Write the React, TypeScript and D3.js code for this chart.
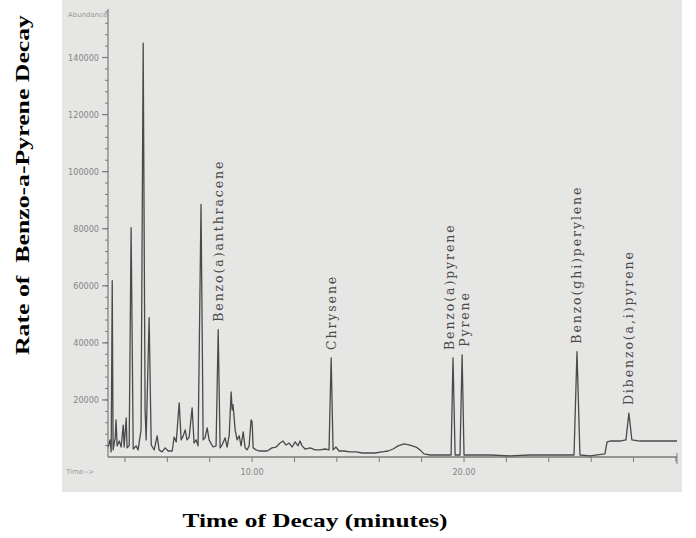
import React from "react";
import * as d3 from "d3";

// retention time (minutes)
const traceTimes = [
  3.21, 3.3, 3.35, 3.4, 3.44, 3.54, 3.58, 3.63, 3.73, 3.82, 3.92, 3.96, 4.06, 4.1, 4.2, 4.29, 4.39, 4.53,
  4.62, 4.76, 4.86, 4.95, 5.0, 5.14, 5.24, 5.38, 5.52, 5.61, 5.75, 5.9, 6.04, 6.23, 6.32, 6.42, 6.56, 6.65,
  6.75, 6.84, 6.93, 7.03, 7.17, 7.26, 7.36, 7.45, 7.59, 7.69, 7.78, 7.88, 7.97, 8.07, 8.16, 8.3, 8.4, 8.49,
  8.58, 8.73, 8.82, 8.92, 9.01, 9.06, 9.1, 9.2, 9.29, 9.39, 9.48, 9.58, 9.67, 9.76, 9.86, 9.95, 10.0, 10.05,
  10.19, 10.33, 10.47, 10.71, 10.94, 11.13, 11.32, 11.46, 11.6, 11.75, 11.89, 12.03, 12.17, 12.26, 12.36,
  12.5, 12.74, 12.97, 13.21, 13.44, 13.63, 13.73, 13.82, 13.96, 14.1, 14.34, 14.62, 14.91, 15.19, 15.47,
  15.8, 16.13, 16.42, 16.65, 16.89, 17.17, 17.45, 17.74, 17.92, 18.11, 18.4, 18.87, 19.39, 19.48, 19.58,
  19.81, 19.91, 20.0, 20.28, 21.23, 22.17, 23.11, 24.06, 25.19, 25.33, 25.47, 25.94, 26.65, 26.75, 26.89,
  27.36, 27.64, 27.78, 27.92, 28.3, 29.01, 30.05,
];

// abundance at each of those times
const traceAbundance = [
  3500, 6000, 1800, 61800, 2500, 6700, 13000, 3900, 5600, 3500, 11200, 3500, 13700, 3200, 3900, 80400, 2800, 3900,
  2500, 9500, 145000, 16500, 6000, 48800, 4200, 2500, 7400, 2500, 1800, 3200, 2100, 2100, 7000, 5300, 19000, 6000,
  7400, 9500, 6000, 7000, 17200, 4900, 6000, 3900, 88500, 6000, 6700, 10200, 6000, 4600, 3500, 3900, 44600, 3200,
  4200, 6700, 3500, 7700, 22800, 16500, 18300, 9500, 6000, 7400, 3900, 8800, 3200, 2500, 3900, 13000, 12300, 3200,
  2500, 2100, 2100, 2100, 3200, 3500, 4900, 5600, 4200, 4900, 3500, 5300, 3900, 5600, 3900,
  2800, 3200, 2500, 2500, 2800, 2500, 34700, 2500, 3500, 2100, 2100, 1800, 1800, 1400, 1400,
  1400, 1800, 2100, 2800, 3900, 4600, 4200, 3500, 2500, 1100, 700, 700, 700, 34700, 700,
  700, 35800, 700, 700, 700, 400, 700, 700, 700, 36900, 700, 400, 1100, 5300, 5600,
  5600, 6000, 15400, 6000, 5600, 5600, 5600,
];

const peakNames = [
  "Benzo(a)anthracene",
  "Chrysene",
  "Benzo(a)pyrene",
  "Pyrene",
  "Benzo(ghi)perylene",
  "Dibenzo(a,i)pyrene",
];
const peakTimes = [8.4, 13.73, 19.48, 19.91, 25.33, 27.78];

const yMajorTicks = [20000, 40000, 60000, 80000, 100000, 120000, 140000];
const xLabelTicks = [10, 20];

const W = 696;
const H = 538;

export default function App() {
  const x = d3.scaleLinear().domain([3.2, 30.05]).range([108, 677]);
  const y = d3.scaleLinear().domain([0, 157000]).range([457, 9]);

  const points = traceTimes.map((t, i) => [t, traceAbundance[i]] as [number, number]);
  const line = d3
    .line<[number, number]>()
    .x((d) => x(d[0]))
    .y((d) => y(d[1]));

  const minorY = d3.range(4000, 157000, 4000);
  const xTicks = d3.range(4, 30.01, 2);

  const heightAt = (t: number) => {
    const i = d3.minIndex(traceTimes, (v) => Math.abs(v - t));
    return traceAbundance[i];
  };

  // spread labels whose peaks sit too close together
  const labelX = peakTimes.map((t) => x(t));
  for (let i = 1; i < labelX.length; i++) {
    const gap = labelX[i] - labelX[i - 1];
    if (gap < 15) {
      const push = (15 - gap) / 2;
      labelX[i - 1] -= push;
      labelX[i] += push;
    }
  }

  const grey = "#7a7a7a";
  const ink = "#4a4a4a";

  return (
    <div style={{ position: "absolute", left: 0, top: 0 }}>
      <svg width={W} height={H} style={{ display: "block" }}>
        <rect x={0} y={0} width={W} height={H} fill="#ffffff" />
        <rect x={62} y={0} width={620} height={492} fill="#e6e6e4" />

        {/* y axis */}
        <line x1={x.range()[0]} x2={x.range()[0]} y1={y(0)} y2={y(157000)} stroke={grey} strokeWidth={1.2} />
        {minorY.map((v) => (
          <line key={"m" + v} x1={x.range()[0] - 3} x2={x.range()[0]} y1={y(v)} y2={y(v)} stroke={grey} strokeWidth={1} />
        ))}
        {yMajorTicks.map((v) => (
          <g key={"y" + v}>
            <line x1={x.range()[0] - 6} x2={x.range()[0]} y1={y(v)} y2={y(v)} stroke={grey} strokeWidth={1.2} />
            <text
              x={x.range()[0] - 9}
              y={y(v)}
              dy="0.35em"
              textAnchor="end"
              fontFamily="DejaVu Sans Condensed, DejaVu Sans, sans-serif"
              fontSize={9}
              fill="#858585"
            >
              {v}
            </text>
          </g>
        ))}
        <text x={68} y={17} fontFamily="DejaVu Sans, sans-serif" fontSize={7} fill="#9a9a9a">
          Abundance
        </text>

        {/* x axis */}
        <line x1={x.range()[0]} x2={x.range()[1]} y1={y(0)} y2={y(0)} stroke={grey} strokeWidth={1.4} />
        {xTicks.map((t) => (
          <line key={"x" + t} x1={x(t)} x2={x(t)} y1={y(0)} y2={y(0) + 5} stroke={grey} strokeWidth={1} />
        ))}
        <line x1={x(30.05)} x2={x(30.05)} y1={y(0) - 4} y2={y(0) + 7} stroke={grey} strokeWidth={1} />
        {xLabelTicks.map((t) => (
          <text
            key={"xl" + t}
            x={x(t)}
            y={y(0) + 18}
            textAnchor="middle"
            fontFamily="DejaVu Sans Condensed, DejaVu Sans, sans-serif"
            fontSize={9}
            fill="#858585"
          >
            {t.toFixed(2)}
          </text>
        ))}
        <text x={66} y={474} fontFamily="DejaVu Sans, sans-serif" fontSize={7} fill="#9a9a9a">
          Time--&gt;
        </text>

        {/* chromatogram trace */}
        <path d={line(points) ?? ""} fill="none" stroke={ink} strokeWidth={1.3} strokeLinejoin="round" />

        {/* peak labels */}
        {peakNames.map((name, i) => {
          const py = y(heightAt(peakTimes[i])) - 8;
          return (
            <text
              key={name}
              transform={`translate(${labelX[i]},${py}) rotate(-90)`}
              dy="0.35em"
              fontFamily="DejaVu Serif, serif"
              fontSize={12.5}
              letterSpacing={1.9}
              fill="#4a4a4a"
            >
              {name}
            </text>
          );
        })}

        {/* axis titles */}
        <text
          transform={`translate(29,185) rotate(-90)`}
          textAnchor="middle"
          fontFamily="Liberation Serif, Times New Roman, serif"
          fontWeight="bold"
          fontSize={19}
          textLength={340}
          lengthAdjust="spacingAndGlyphs"
          fill="#000"
        >
          Rate of {"\u00a0"}Benzo-a-Pyrene Decay
        </text>
        <text
          x={315}
          y={527}
          textAnchor="middle"
          fontFamily="Liberation Serif, Times New Roman, serif"
          fontWeight="bold"
          fontSize={19}
          textLength={265}
          lengthAdjust="spacingAndGlyphs"
          fill="#000"
        >
          Time of Decay (minutes)
        </text>
      </svg>
    </div>
  );
}
